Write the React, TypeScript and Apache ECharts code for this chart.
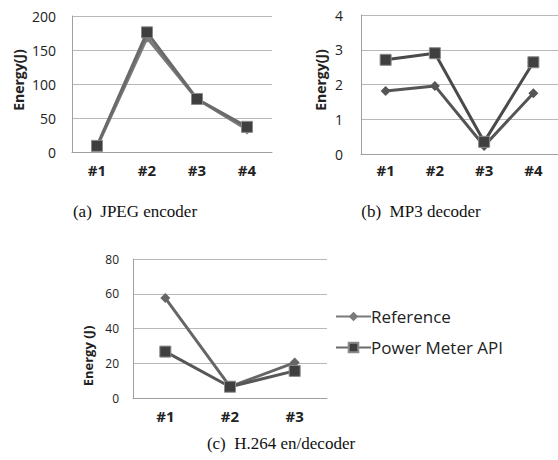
import React, { useEffect, useRef } from "react";
import * as echarts from "echarts";

const catsA = ["#1", "#2", "#3", "#4"];
const refA = [8, 168, 78, 33];
const pmA = [9, 176, 78, 37];

const catsB = ["#1", "#2", "#3", "#4"];
const refB = [1.81, 1.96, 0.23, 1.75];
const pmB = [2.71, 2.9, 0.35, 2.64];

const catsC = ["#1", "#2", "#3"];
const refC = [57.5, 6.5, 20.4];
const pmC = [26.7, 6.5, 15.6];

const captions = ["(a)  JPEG encoder", "(b)  MP3 decoder", "(c)  H.264 en/decoder"];
const seriesNames = ["Reference", "Power Meter API"];

const SANS = "'Open Sans'";
const SERIF = "'Liberation Serif'";

export default function App() {
  const ref = useRef<HTMLDivElement>(null);
  useEffect(() => {
    const chart = echarts.init(ref.current!, null, { renderer: "svg" });
    const grids = [
      { left: 72, top: 16, width: 200, height: 136 },
      { left: 361, top: 15, width: 197, height: 139 },
      { left: 133, top: 259, width: 194, height: 139 },
    ];
    const cats = [catsA, catsB, catsC];
    const yCfg = [
      { max: 200, interval: 50, fs: 14, margin: 16 },
      { max: 4, interval: 1, fs: 14, margin: 18 },
      { max: 80, interval: 20, fs: 12, margin: 14 },
    ];
    const xMargin = [10, 8, 10];
    const refs = [refA, refB, refC];
    const pms = [pmA, pmB, pmC];
    const lineCols = [
      { r: "#7a7a7a", p: "#6a6a6a" },
      { r: "#555555", p: "#4a4a4a" },
      { r: "#666666", p: "#575757" },
    ];
    const series: any[] = [];
    for (let i = 0; i < 3; i++) {
      series.push({
        name: seriesNames[0],
        type: "line",
        xAxisIndex: i,
        yAxisIndex: i,
        data: refs[i],
        symbol: "diamond",
        symbolSize: 10,
        lineStyle: { width: 3, color: lineCols[i].r },
        itemStyle: { color: lineCols[i].r },
        z: 2,
      });
      series.push({
        name: seriesNames[1],
        type: "line",
        xAxisIndex: i,
        yAxisIndex: i,
        data: pms[i],
        symbol: "rect",
        symbolSize: 11,
        lineStyle: { width: 3, color: lineCols[i].p },
        itemStyle: { color: "#3f3f3f", borderColor: "#8a8a8a", borderWidth: 1 },
        z: 3,
      });
    }
    const vText = (text: string, x: number, y: number, fs: number) => ({
      type: "text",
      x,
      y,
      rotation: Math.PI / 2,
      style: {
        text,
        font: `bold ${fs}px ${SANS}`,
        fill: "#222",
        textAlign: "center",
        textVerticalAlign: "middle",
      },
    });
    const cap = (text: string, x: number, y: number) => ({
      type: "text",
      x,
      y,
      style: {
        text,
        font: `17px ${SERIF}`,
        fill: "#111",
        textAlign: "center",
        textVerticalAlign: "middle",
      },
    });
    chart.setOption({
      animation: false,
      grid: grids,
      xAxis: cats.map((c, i) => ({
        type: "category",
        gridIndex: i,
        data: c,
        boundaryGap: true,
        axisLine: { show: true, lineStyle: { color: "#a0a0a0", width: 1 } },
        axisTick: { show: false },
        axisLabel: {
          fontFamily: SANS,
          fontWeight: "bold",
          fontSize: 15,
          color: "#222",
          margin: xMargin[i],
        },
      })),
      yAxis: yCfg.map((y, i) => ({
        type: "value",
        gridIndex: i,
        min: 0,
        max: y.max,
        interval: y.interval,
        axisLine: { show: true, lineStyle: { color: "#a0a0a0", width: 1 } },
        axisTick: { show: false },
        splitLine: { show: true, lineStyle: { color: "#b8b8b8", width: 1 } },
        axisLabel: {
          fontFamily: SANS,
          fontSize: y.fs,
          color: "#222",
          margin: y.margin,
        },
      })),
      legend: {
        show: true,
        data: seriesNames,
        orient: "vertical",
        left: 330,
        top: 303,
        itemWidth: 35,
        itemHeight: 12,
        itemGap: 14,
        textStyle: { fontFamily: SANS, fontSize: 17, color: "#222", padding: [0, 0, 0, -5] },
      },
      graphic: [
        vText("Energy(J)", 18, 80, 14),
        vText("Energy(J)", 320, 80, 14),
        vText("Energy (J)", 88, 356, 13),
        cap(captions[0], 135, 211),
        cap(captions[1], 421, 211),
        cap(captions[2], 281, 443),
      ],
      series,
    });
    return () => chart.dispose();
  }, []);
  return (
    <div
      ref={ref}
      style={{ position: "fixed", left: 0, top: 0, width: 558, height: 460, background: "#fff" }}
    />
  );
}
